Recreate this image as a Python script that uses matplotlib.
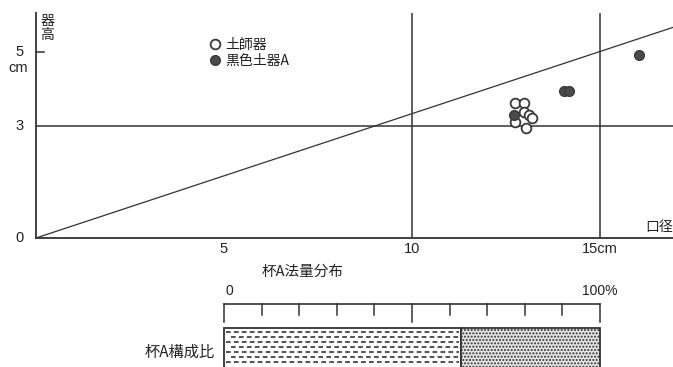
import matplotlib
matplotlib.use("Agg")
import matplotlib.pyplot as plt
from matplotlib.patches import Rectangle

plt.rcParams['font.family'] = ['Liberation Sans', 'Noto Sans CJK JP', 'DejaVu Sans']
plt.rcParams['hatch.color'] = '#8a8a8a'
JP = ['Noto Sans CJK JP', 'DejaVu Sans']

# ---- data ----
doshiki_x = [12.74, 12.97, 12.99, 13.10, 13.20, 12.75, 13.02]
doshiki_y = [3.62, 3.62, 3.38, 3.31, 3.21, 3.10, 2.96]
kokushoku_x = [12.72, 14.05, 14.17, 16.05]
kokushoku_y = [3.30, 3.95, 3.95, 4.90]
ratio_line_x = [0, 18]
ratio_line_y = [0, 6]          # y = x / 3
grid_x = [10, 15]
grid_y = [3]
xtick_vals = [5, 10, 15]
xtick_labels = ['5', '10', '15cm']
ytick_vals = [0, 3, 5]
ytick_labels = ['0', '3', '5']
legend_labels = ['土師器', '黒色土器A']
comp_labels = ['杯A構成比']
comp_values = [63, 37]
scale_ticks = [0, 10, 20, 30, 40, 50, 60, 70, 80, 90, 100]

W, H = 673, 367
fig = plt.figure(figsize=(W / 100, H / 100), dpi=100)
fig.patch.set_facecolor('white')

# main axes: origin at pixel (36, 238), top at 13, right edge 673
px_x = 37.6
px_y = 37.3
left, bottom, top = 36, 238, 13
ax = fig.add_axes([left / W, (H - bottom) / H, (W - left) / W, (bottom - top) / H])
ax.set_xlim(0, (W - left) / px_x)
ax.set_ylim(0, (bottom - top) / px_y)
ax.patch.set_alpha(0)
for s in ['top', 'right']:
    ax.spines[s].set_visible(False)
for s in ['left', 'bottom']:
    ax.spines[s].set_color('#333333')
    ax.spines[s].set_linewidth(1.3)
ax.set_xticks([])
ax.set_yticks([])

lc = '#333333'
tc = '#222222'
for gx in grid_x:
    ax.axvline(gx, color=lc, lw=1.1)
for gy in grid_y:
    ax.axhline(gy, color=lc, lw=1.1)
ax.plot(ratio_line_x, ratio_line_y, color=lc, lw=0.9)
# small tick at 5 cm
ax.plot([0, 0.22], [5, 5], color=lc, lw=1.1)

# tick labels
for v, t in zip(xtick_vals, xtick_labels):
    ax.text(v, -0.12, t, ha='center', va='top', fontsize=10.5, color=tc)
for v, t in zip(ytick_vals, ytick_labels):
    ax.text(-0.33, v, t, ha='right', va='center', fontsize=10.5, color=tc)
ax.text(-0.2, 4.55, 'cm', ha='right', va='center', fontsize=10.5, color=tc)
ax.text(0.12, 6.0, '器\n高', ha='left', va='top', fontsize=10, family=JP,
        color=tc, linespacing=0.95)
ax.text(16.95, 0.1, '口径', ha='right', va='bottom', fontsize=10, family=JP, color=tc)

mc = '#3a3a3a'
ax.plot(doshiki_x, doshiki_y, 'o', ms=7, mfc='white', mec=mc, mew=1.3,
        linestyle='none', label=legend_labels[0], zorder=3)
ax.plot(kokushoku_x, kokushoku_y, 'o', ms=7, mfc='#4a4a4a', mec=mc, mew=1.0,
        linestyle='none', label=legend_labels[1], zorder=3)
leg = ax.legend(loc='upper left', bbox_to_anchor=(204 / W, (H - 31) / H),
                bbox_transform=fig.transFigure, frameon=False, handlelength=0.6,
                handletextpad=0.45, labelspacing=0.15, borderpad=0,
                prop={'family': JP, 'size': 10})
for t in leg.get_texts():
    t.set_color(tc)

fig.text(303 / W, (H - 272) / H, '杯A法量分布', ha='center', va='center',
         fontsize=10.5, family=JP, color=tc)

# composition bar axes: x 0..100 across pixels 224..600, y in pixels from bottom
bx0, bx1 = 224, 600
ax2 = fig.add_axes([bx0 / W, 0, (bx1 - bx0) / W, 1])
ax2.set_xlim(0, 100)
ax2.set_ylim(0, H)
ax2.axis('off')
ax2.patch.set_alpha(0)


def py(p):
    return H - p


line_y = py(304)
ax2.plot([0, 100], [line_y, line_y], color=lc, lw=1.2, clip_on=False)
for t in scale_ticks:
    end = py(322) if t in (0, 50, 100) else py(315)
    ax2.plot([t, t], [line_y, end], color=lc, lw=1.1, clip_on=False)
ax2.text(0.5, py(291), '0', ha='left', va='center', fontsize=10, color=tc)
ax2.text(100, py(291), '100%', ha='center', va='center', fontsize=10, color=tc)

bar_top = py(328)
bar_bot = py(372)
starts = [0, comp_values[0]]
# dashed portion
r1 = Rectangle((starts[0], bar_bot), comp_values[0], bar_top - bar_bot,
               facecolor='white', edgecolor=lc, lw=1.3, clip_on=False)
ax2.add_patch(r1)
row = 0
yy = bar_top - 4
while yy > 0:
    off = 0 if row % 2 == 0 else 1.2
    ax2.plot([starts[0] + 0.6 + off, comp_values[0] - 0.4], [yy, yy], color='#444444',
             lw=1.3, linestyle=(0, (2.6, 1.8)), clip_on=True)
    yy -= 5
    row += 1
# dotted portion
r2 = Rectangle((starts[1], bar_bot), comp_values[1], bar_top - bar_bot,
               facecolor='#e6e6e6', edgecolor=lc, lw=1.3, hatch='.....', clip_on=False)
ax2.add_patch(r2)

fig.text(215 / W, (H - 352) / H, comp_labels[0], ha='right', va='center',
         fontsize=11, family=JP, color=tc)

fig.savefig('out.png', dpi=100, facecolor='white')
